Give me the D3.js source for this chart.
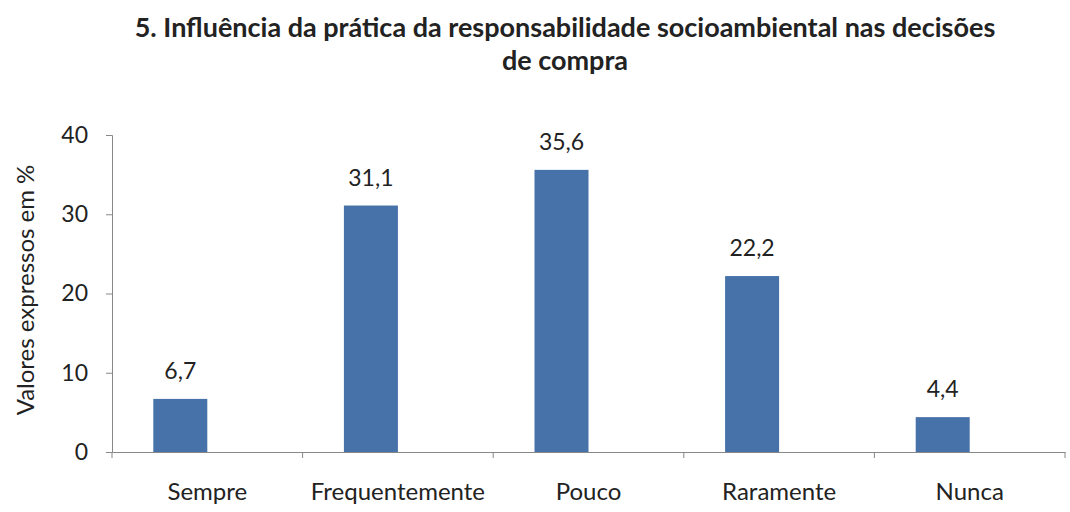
<!DOCTYPE html>
<html>
<head>
<meta charset="utf-8">
<script src="https://cdn.jsdelivr.net/npm/d3@7"></script>
<style>
  body { margin: 0; background: #fff; }
  text { font-family: Lato, "Open Sans", sans-serif; fill: #222; }
</style>
</head>
<body>
<svg></svg>
<script>
var width = 1070, height = 512;

var categories = ["Sempre", "Frequentemente", "Pouco", "Raramente", "Nunca"];
var values = [6.7, 31.1, 35.6, 22.2, 4.4];
var valueLabels = ["6,7", "31,1", "35,6", "22,2", "4,4"];
var yTicks = [0, 10, 20, 30, 40];
var titleLines = ["5. Influência da prática da responsabilidade socioambiental nas decisões", "de compra"];

var svg = d3.select("svg").attr("width", width).attr("height", height);

var x = d3.scaleBand().domain(categories).range([112, 1065]);
// excel-style cluster with an empty 2nd series, so bar sits left of centre
var xs = d3.scaleBand().domain(["v", "empty"]).range([0, x.bandwidth()]).paddingOuter(0.765);
var y = d3.scaleLinear().domain([0, 40]).range([452, 135]);

// title
svg.append("text")
  .attr("x", 565).attr("y", 37)
  .attr("text-anchor", "middle")
  .style("font-weight", "bold").style("font-size", "27px")
  .selectAll("tspan").data(titleLines).enter().append("tspan")
  .attr("x", 565).attr("dy", function(d, i) { return i == 0 ? 0 : 33; })
  .text(function(d) { return d; });

// y axis
var yAxis = svg.append("g").attr("transform", "translate(112,0)")
  .call(d3.axisLeft(y).tickValues(yTicks).tickSize(6).tickPadding(18));
yAxis.select(".domain").attr("stroke", "#888");
yAxis.selectAll(".tick line").attr("stroke", "#888");
yAxis.selectAll(".tick text").style("font-size", "23px").style("font-family", "Lato, sans-serif").attr("fill", "#222");

// x axis
var xAxis = svg.append("g").attr("transform", "translate(0,452)")
  .call(d3.axisBottom(x).tickSize(0).tickPadding(31));
xAxis.select(".domain").attr("stroke", "#888");
xAxis.selectAll(".tick text").style("font-size", "24px").style("font-family", "Lato, sans-serif").attr("fill", "#222");
// boundary ticks between categories
var bounds = categories.map(function(c) { return x(c); }).concat([x.range()[1]]);
svg.append("g").selectAll("line").data(bounds).enter().append("line")
  .attr("x1", function(d) { return d; }).attr("x2", function(d) { return d; })
  .attr("y1", 452).attr("y2", 458)
  .attr("stroke", "#888");

// bars
svg.append("g").selectAll("rect").data(values).enter().append("rect")
  .attr("x", function(d, i) { return x(categories[i]) + xs("v"); })
  .attr("width", xs.bandwidth())
  .attr("y", function(d) { return y(d); })
  .attr("height", function(d) { return y(0) - y(d); })
  .attr("fill", "#4671a9");

// value labels
svg.append("g").selectAll("text").data(values).enter().append("text")
  .attr("x", function(d, i) { return x(categories[i]) + xs("v") + xs.bandwidth() / 2; })
  .attr("y", function(d) { return y(d) - 20; })
  .attr("text-anchor", "middle")
  .style("font-size", "23px")
  .text(function(d, i) { return valueLabels[i]; });

// y title
svg.append("text")
  .attr("transform", "translate(34,290) rotate(-90)")
  .attr("text-anchor", "middle")
  .style("font-size", "24px")
  .text("Valores expressos em %");
</script>
</body>
</html>
